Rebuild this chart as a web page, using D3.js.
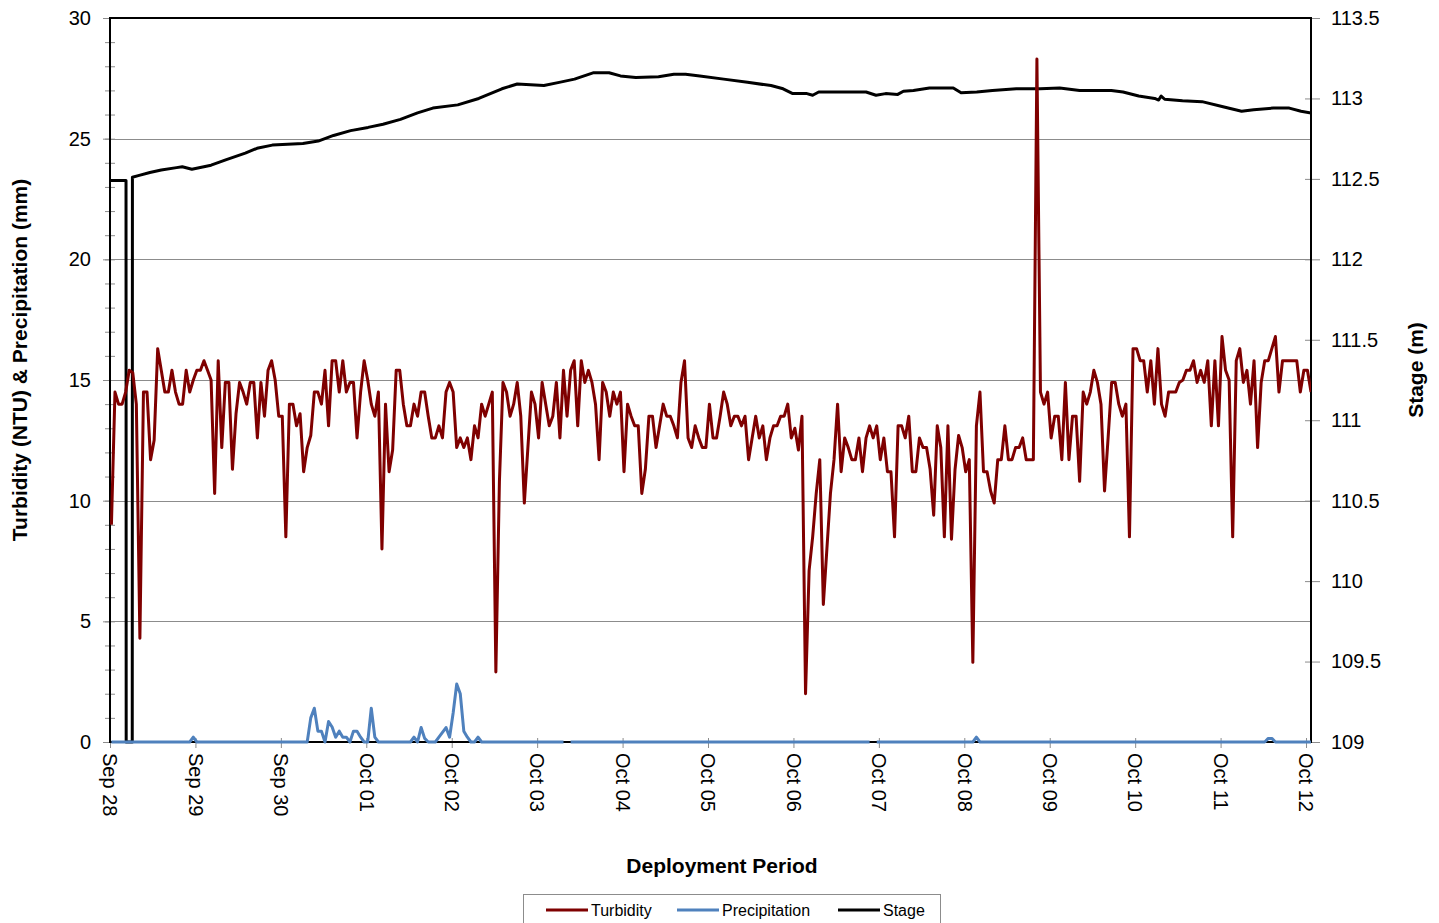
<!DOCTYPE html>
<html>
<head>
<meta charset="utf-8">
<script src="https://cdn.jsdelivr.net/npm/d3@7"></script>
<style>
  body { margin: 0; background: #fff; }
  svg { font-family: "Liberation Sans", Arial, sans-serif; }
</style>
</head>
<body>
<div id="chart"></div>
<script>
// hourly logger readings, first reading at Sep 28 00:24
const startTime = new Date(2009, 8, 28, 0, 24);
const domainStart = new Date(2009, 8, 28, 0, 0);
const domainEnd = new Date(2009, 9, 12, 1, 24);

const turbidity = [
    9.0,14.5,14.0,14.0,14.5,15.4,15.3,14.0,4.3,14.5,14.5,11.7,12.5,16.3,15.4,14.5,14.5,15.4,14.5,14.0,14.0,15.4,14.5,15.0,
    15.4,15.4,15.8,15.4,15.0,10.3,15.8,12.2,14.9,14.9,11.3,13.6,14.9,14.5,14.0,14.9,14.9,12.6,14.9,13.5,15.4,15.8,15.0,13.5,
    13.5,8.5,14.0,14.0,13.1,13.6,11.2,12.2,12.7,14.5,14.5,14.0,15.4,13.1,15.8,15.8,14.5,15.8,14.5,14.9,14.9,12.6,14.5,15.8,
    15.0,14.0,13.5,14.5,8.0,14.0,11.2,12.1,15.4,15.4,14.0,13.1,13.1,14.0,13.5,14.5,14.5,13.5,12.6,12.6,13.1,12.6,14.5,14.9,
    14.5,12.2,12.6,12.2,12.6,11.7,13.1,12.6,14.0,13.5,14.0,14.5,2.9,10.8,14.9,14.5,13.5,14.0,14.9,13.5,9.9,12.2,14.5,14.0,
    12.6,14.9,14.0,13.1,13.5,14.9,12.6,15.4,13.5,15.4,15.8,13.1,15.8,14.9,15.4,14.9,14.0,11.7,14.9,14.5,13.5,14.5,14.0,14.5,
    11.2,14.0,13.5,13.1,13.1,10.3,11.3,13.5,13.5,12.2,13.1,14.0,13.5,13.5,13.1,12.6,14.9,15.8,12.6,12.2,13.1,12.6,12.2,12.2,
    14.0,12.6,12.6,13.5,14.5,14.0,13.1,13.5,13.5,13.1,13.5,11.7,12.6,13.5,12.6,13.1,11.7,12.6,13.1,13.1,13.5,13.5,14.0,12.6,
    13.0,12.1,13.5,2.0,7.1,8.5,10.3,11.7,5.7,8.0,10.3,11.7,14.0,11.2,12.6,12.2,11.7,11.7,12.6,11.2,12.6,13.1,12.6,13.1,
    11.7,12.6,11.2,11.2,8.5,13.1,13.1,12.6,13.5,11.2,11.2,12.6,12.2,12.2,11.3,9.4,13.1,12.2,8.5,13.1,8.4,11.3,12.7,12.2,
    11.2,11.7,3.3,13.1,14.5,11.2,11.2,10.4,9.9,11.7,11.7,13.1,11.7,11.7,12.2,12.2,12.6,11.7,11.7,11.7,28.3,14.5,14.0,14.5,
    12.6,13.5,13.5,11.7,14.9,11.7,13.5,13.5,10.8,14.5,14.0,14.5,15.4,14.9,14.0,10.4,12.6,14.9,14.9,14.0,13.5,14.0,8.5,16.3,
    16.3,15.8,15.8,14.5,15.8,14.0,16.3,14.0,13.5,14.5,14.5,14.5,14.9,15.0,15.4,15.4,15.8,14.9,15.4,14.9,15.8,13.1,15.8,13.1,
    16.8,15.4,15.0,8.5,15.8,16.3,14.9,15.4,14.0,15.8,12.2,14.9,15.8,15.8,16.3,16.8,14.5,15.8,15.8,15.8,15.8,15.8,14.5,15.4,
    15.4,14.5
];

const precipitation = [
    0,0,0,0,0,0,0,0,0,0,0,0,0,0,0,0,0,0,0,0,0,0,0,0.2,
    0,0,0,0,0,0,0,0,0,0,0,0,0,0,0,0,0,0,0,0,0,0,0,0,
    0,0,0,0,0,0,0,0,1.0,1.4,0.45,0.45,0,0.85,0.62,0.2,0.45,0.2,0.2,0,0.45,0.45,0.2,0,
    0,1.4,0.2,0,0,0,0,0,0,0,0,0,0,0.2,0,0.6,0.15,0,0,0,0.2,0.4,0.6,0.2,
    1.2,2.4,2.0,0.45,0.2,0,0,0.2,0,0,0,0,0,0,0,0,0,0,0,0,0,0,0,0,
    0,0,0,0,0,0,0,0,null,0,0,0,0,0,0,0,0,0,0,0,0,0,0,0,
    0,0,0,0,0,0,0,0,0,0,0,0,0,0,0,0,0,0,0,0,0,0,0,0,
    0,0,0,0,0,0,0,0,0,0,0,0,0,0,0,0,0,0,0,0,0,0,0,0,
    0,0,0,0,0,0,0,0,0,0,0,0,0,0,0,0,0,0,0,0,0,0,null,0,
    0,0,0,0,0,0,0,0,0,0,0,0,0,0,0,0,0,0,0,0,0,0,0,0,
    0,0,0,0.2,0,0,0,0,0,0,0,0,0,0,0,0,0,0,0,0,0,0,0,0,
    0,0,0,0,0,0,0,0,0,0,0,0,0,0,0,0,0,0,0,0,0,0,0,0,
    0,0,0,0,0,0,0,0,0,0,0,0,0,0,0,0,0,0,0,0,0,0,0,0,
    0,0,0,0,0,0,0,0,0,0,0,0,0,0.15,0.15,0,0,0,0,0,0,0,0,0,
    0,0
];

// stage: hours after Sep 28 00:00, level in m (two zero readings near the start)
const stageHours = [0,4.5,4.55,6.25,6.3,7.95,11.2,14.4,18.7,20.3,23.0,28.4,32.7,38.0,41.3,45.6,49.9,54.2,58.5,62.8,
    67.6,72.5,76.7,81.6,86.4,90.7,97.7,103.6,110.1,114.4,121.9,126.2,130.5,135.9,140.2,143.4,147.7,154.1,158.4,161.7,
    165.7,172.4,179.1,185.7,189.1,191.8,195.8,197.4,199.1,206.8,212.4,215.2,217.9,221.3,222.9,225.7,230.2,236.9,239.1,243.5,
    247.9,254.6,261.3,266.8,272.4,281.3,284.6,289.0,293.5,294.6,295.3,296.3,301.3,306.8,312.4,317.9,321.3,326.8,331.3,334.6,337.4];
const stageLevels = [112.49,112.49,109,109,112.51,112.52,112.54,112.555,112.57,112.575,112.56,112.585,112.62,112.66,112.69,112.71,112.715,112.72,112.735,112.77,
    112.80,112.82,112.84,112.87,112.91,112.94,112.96,113.0,113.06,113.09,113.08,113.10,113.12,113.16,113.16,113.14,113.13,113.135,113.15,113.15,
    113.14,113.12,113.10,113.08,113.06,113.03,113.03,113.02,113.04,113.04,113.04,113.02,113.03,113.025,113.045,113.05,113.065,113.065,113.035,113.04,
    113.05,113.06,113.06,113.065,113.05,113.05,113.04,113.015,113.0,112.99,113.015,112.995,112.985,112.98,112.95,112.92,112.93,112.94,112.94,112.92,112.91];

const leftTicks = [0, 5, 10, 15, 20, 25, 30];
const rightTicks = [109, 109.5, 110, 110.5, 111, 111.5, 112, 112.5, 113, 113.5];
const seriesNames = ["Turbidity", "Precipitation", "Stage"];
const seriesColors = ["#7f0000", "#4f81bd", "#000000"];

const width = 1439;
const height = 923;
const margin = { top: 18, right: 128, bottom: 181, left: 110 };
const x0 = margin.left, x1 = width - margin.right;
const y0 = height - margin.bottom, y1 = margin.top;
const hour = 3600 * 1000;

const svg = d3.select("#chart").append("svg")
    .attr("width", width)
    .attr("height", height);

const x = d3.scaleTime().domain([domainStart, domainEnd]).range([x0, x1]);
const yL = d3.scaleLinear().domain([0, 30]).range([y0, y1]);
const yR = d3.scaleLinear().domain([109, 113.5]).range([y0, y1]);

const turbData = turbidity.map((v, i) => ({ t: new Date(+startTime + i * hour), v }));
const precData = precipitation.map((v, i) => ({ t: new Date(+startTime + i * hour), v }));
const stageData = stageHours.map((h, i) => ({ t: new Date(+domainStart + h * hour), v: stageLevels[i] }));

// gridlines
svg.append("g")
    .selectAll("line")
    .data(leftTicks.filter(d => d > 0 && d < 30))
    .enter()
    .append("line")
    .attr("x1", x0).attr("x2", x1)
    .attr("y1", d => Math.round(yL(d)) + 0.5)
    .attr("y2", d => Math.round(yL(d)) + 0.5)
    .attr("stroke", "#8c8c8c")
    .attr("stroke-width", 1);

// left axis: minor ticks crossing the line, major ticks with labels
svg.append("g")
    .attr("transform", `translate(${x0 + 5}, 0)`)
    .call(d3.axisLeft(yL).tickValues(d3.range(0, 31)).tickSize(10).tickFormat(""))
    .call(g => g.select(".domain").remove())
    .call(g => g.selectAll("line").attr("stroke", "#8c8c8c"));

svg.append("g")
    .attr("transform", `translate(${x0}, 0)`)
    .call(d3.axisLeft(yL).tickValues(leftTicks).tickSize(7).tickPadding(12))
    .call(g => g.select(".domain").remove())
    .call(g => g.selectAll("line").attr("stroke", "#8c8c8c"))
    .call(g => g.selectAll("text").style("font-size", "20px").attr("fill", "#000"));

// right axis
svg.append("g")
    .attr("transform", `translate(${x1 - 6}, 0)`)
    .call(d3.axisRight(yR).tickValues(rightTicks).tickSize(15).tickFormat(""))
    .call(g => g.select(".domain").remove())
    .call(g => g.selectAll("line").attr("stroke", "#8c8c8c"));

svg.append("g")
    .attr("transform", `translate(${x1}, 0)`)
    .call(d3.axisRight(yR).tickValues(rightTicks).tickSize(9).tickPadding(11).tickFormat(d3.format("")))
    .call(g => g.select(".domain").remove())
    .call(g => g.selectAll("line").remove())
    .call(g => g.selectAll("text").style("font-size", "20px").attr("fill", "#000"));

// bottom axis with rotated day labels
svg.append("g")
    .attr("transform", `translate(0, ${y0 - 4})`)
    .call(d3.axisBottom(x).ticks(d3.timeDay.every(1)).tickSize(10).tickFormat(d3.timeFormat("%b %d")))
    .call(g => g.select(".domain").remove())
    .call(g => g.selectAll("line").attr("stroke", "#8c8c8c"))
    .call(g => g.selectAll("text")
        .style("font-size", "20px")
        .attr("fill", "#000")
        .attr("transform", "rotate(90)")
        .attr("x", 15)
        .attr("y", 0)
        .attr("dy", "0.36em")
        .style("text-anchor", "start"));

// plot frame
svg.append("rect")
    .attr("x", x0).attr("y", y1)
    .attr("width", x1 - x0).attr("height", y0 - y1)
    .attr("fill", "none")
    .attr("stroke", "#000")
    .attr("stroke-width", 2);

svg.append("defs").append("clipPath").attr("id", "plot-clip")
    .append("rect")
    .attr("x", x0).attr("y", y1 - 2)
    .attr("width", x1 - x0).attr("height", y0 - y1 + 4);

const plot = svg.append("g").attr("clip-path", "url(#plot-clip)");

const lineL = d3.line().defined(d => d.v != null).x(d => x(d.t)).y(d => yL(d.v));
const lineR = d3.line().x(d => x(d.t)).y(d => yR(d.v));

plot.append("path")
    .datum(stageData)
    .attr("d", lineR)
    .attr("fill", "none")
    .attr("stroke", seriesColors[2])
    .attr("stroke-width", 3)
    .attr("stroke-linejoin", "round");

plot.append("path")
    .datum(precData)
    .attr("d", lineL)
    .attr("fill", "none")
    .attr("stroke", seriesColors[1])
    .attr("stroke-width", 3)
    .attr("stroke-linejoin", "round");

plot.append("path")
    .datum(turbData)
    .attr("d", lineL)
    .attr("fill", "none")
    .attr("stroke", seriesColors[0])
    .attr("stroke-width", 3)
    .attr("stroke-linejoin", "round");

// axis titles
svg.append("text")
    .attr("transform", `translate(27, 360) rotate(-90)`)
    .attr("text-anchor", "middle")
    .style("font-size", "21px")
    .style("font-weight", "bold")
    .text("Turbidity (NTU) & Precipitation (mm)");

svg.append("text")
    .attr("transform", `translate(1423, 370) rotate(-90)`)
    .attr("text-anchor", "middle")
    .style("font-size", "21px")
    .style("font-weight", "bold")
    .text("Stage (m)");

svg.append("text")
    .attr("x", 722)
    .attr("y", 873)
    .attr("text-anchor", "middle")
    .style("font-size", "21px")
    .style("font-weight", "bold")
    .text("Deployment Period");

// legend
const legend = svg.append("g");
legend.append("rect")
    .attr("x", 523.5).attr("y", 894.5)
    .attr("width", 417).attr("height", 40)
    .attr("fill", "#fff")
    .attr("stroke", "#8c8c8c");

const legendX = [546, 677, 838];
const item = legend.selectAll("g.item")
    .data(seriesNames)
    .enter()
    .append("g")
    .attr("class", "item")
    .attr("transform", (d, i) => `translate(${legendX[i]}, 910)`);

item.append("line")
    .attr("x1", 0).attr("x2", 42)
    .attr("stroke", (d, i) => seriesColors[i])
    .attr("stroke-width", 3);

item.append("text")
    .attr("x", 45)
    .attr("y", 6)
    .style("font-size", "16px")
    .text(d => d);
</script>
</body>
</html>
